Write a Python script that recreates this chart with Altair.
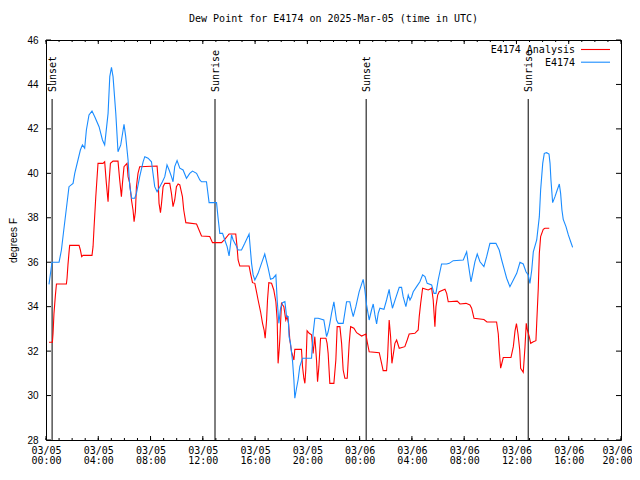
import altair as alt
import pandas as pd

# ---------------- data ----------------
# hours after 2025-03-05 00:00 UTC, degrees F
obs_hours = [0.23, 0.46, 1.0, 1.18, 1.36, 1.76, 2.07, 2.2, 2.63, 2.79, 2.96, 3.09, 3.29, 3.52, 3.73,
             4.06, 4.32, 4.49, 4.75, 4.88, 5.01, 5.13, 5.34, 5.51, 5.72, 5.9, 5.97, 6.1, 6.28, 6.41,
             6.56, 6.79, 6.92, 7.17, 7.43, 7.56, 7.81, 8.07, 8.32, 8.5, 8.71, 8.91, 9.09, 9.26, 9.42,
             9.6, 9.72, 9.85, 10.03, 10.24, 10.49, 10.75, 11.0, 11.21, 11.52, 11.77, 11.9, 12.28, 12.48,
             13.05, 13.17, 13.3, 13.51, 13.68, 13.86, 14.01, 14.2, 14.32, 14.52, 14.7, 14.96, 15.21,
             15.54, 15.73, 15.85, 15.98, 16.23, 16.49, 16.74, 17.0, 17.18, 17.38, 17.59, 17.69, 17.82,
             17.95, 18.1, 18.28, 18.41, 18.53, 18.6, 18.71, 18.87, 18.97, 19.04, 19.17, 19.29, 19.42,
             19.63, 20.32, 20.44, 20.57, 20.83, 21.26, 21.47, 21.59, 21.72, 21.85, 22.03, 22.23, 22.36,
             22.74, 23.0, 23.25, 23.38, 23.51, 23.71, 23.96, 24.27, 24.4, 24.53, 24.73, 24.91, 25.04,
             25.17, 25.3, 25.42, 25.55, 25.86, 26.06, 26.26, 26.32, 26.51, 26.74, 27.03, 27.21, 27.33,
             27.54, 27.72, 27.85, 27.98, 28.1, 28.36, 28.61, 28.82, 29.0, 29.17, 29.51, 29.69, 29.84,
             30.01, 30.27, 30.66, 30.86, 31.16, 31.93, 32.19, 32.31, 32.52, 32.65, 32.82, 33.0, 33.21,
             33.51, 33.72, 33.97, 34.43, 34.68, 34.87, 35.04, 35.25, 35.5, 35.76, 36.02, 36.27, 36.52,
             36.73, 36.9, 37.03, 37.17, 37.29, 37.55, 37.75, 37.85, 38.01, 38.13, 38.31, 38.49, 38.57,
             38.64, 38.77, 38.95, 39.12, 39.28, 39.38, 39.48, 39.58, 39.79, 39.97, 40.15, 40.3]
obs_values = [35.0, 36.0, 36.0, 36.55, 37.45, 39.4, 39.55, 40.0, 41.05, 41.28, 41.13, 41.95, 42.63, 42.8,
              42.55, 42.1, 41.5, 41.28, 42.7, 44.35, 44.77, 44.35, 42.7, 40.97, 41.28, 41.95, 42.2,
              41.65, 40.6, 39.4, 38.88, 38.88, 39.1, 39.85, 40.52, 40.75, 40.68, 40.52, 39.4, 39.17,
              39.4, 39.62, 39.85, 40.38, 40.15, 39.85, 39.62, 40.3, 40.57, 40.23, 40.15, 39.78, 40.0,
              40.1, 40.0, 39.7, 39.62, 39.62, 38.68, 38.68, 37.98, 37.3, 37.3, 37.0, 36.7, 36.28, 37.23,
              37.0, 36.78, 36.55, 36.55, 36.85, 37.27, 35.95, 35.43, 35.2, 35.5, 35.95, 36.37, 35.73,
              35.23, 35.28, 35.43, 34.3, 33.25, 33.93, 34.18, 34.23, 33.55, 33.55, 32.65, 32.35, 31.52,
              30.7, 29.88, 30.33, 30.7, 31.3, 31.68, 31.68, 32.8, 33.48, 33.48, 33.4, 32.65, 32.87,
              33.25, 33.7, 34.22, 33.4, 33.25, 33.25, 34.22, 34.22, 33.85, 33.55, 34.0, 34.67, 35.23,
              34.75, 34.08, 33.4, 33.85, 34.12, 33.63, 33.22, 33.7, 33.93, 33.88, 34.3, 34.78, 34.52,
              33.93, 34.35, 34.87, 34.87, 34.45, 34.0, 34.52, 34.3, 34.45, 34.67, 34.9, 35.12, 35.43,
              35.35, 35.05, 34.98, 34.6, 34.6, 35.2, 35.92, 35.92, 35.95, 36.07, 36.1, 36.47, 35.95,
              35.12, 35.5, 36.02, 36.37, 36.02, 35.8, 36.25, 36.85, 36.85, 36.55, 36.1, 35.73, 35.28,
              34.9, 35.2, 35.5, 36.0, 35.92, 35.57, 35.43, 35.05, 35.65, 36.47, 37.0, 38.05, 39.25,
              40.45, 40.9, 40.93, 40.87, 40.45, 39.7, 38.68, 38.95, 39.25, 39.52, 39.1, 38.35, 37.93,
              37.6, 37.23, 36.92, 36.67]

ana_hours = [0.23, 0.49, 0.54, 0.61, 0.72, 0.8, 1.56, 1.61, 1.68, 1.76, 1.81, 2.53, 2.63, 2.73, 2.83,
             3.52, 3.6, 3.68, 3.81, 3.98, 4.36, 4.49, 4.62, 4.75, 4.82, 4.93, 5.13, 5.51, 5.64, 5.77,
             5.85, 5.97, 6.2, 6.28, 6.41, 6.54, 6.66, 6.74, 6.84, 6.92, 7.04, 7.17, 8.5, 8.58, 8.65,
             8.76, 8.84, 8.96, 9.09, 9.47, 9.6, 9.72, 9.85, 9.98, 10.11, 10.24, 10.44, 10.54, 10.7,
             11.52, 11.71, 11.9, 12.53, 12.74, 13.43, 13.68, 14.01, 14.52, 14.62, 14.7, 14.83, 15.54,
             15.65, 15.8, 15.98, 16.11, 16.23, 16.42, 16.57, 16.69, 16.77, 16.88, 16.95, 17.05, 17.26,
             17.43, 17.59, 17.69, 17.76, 17.84, 17.89, 18.02, 18.2, 18.35, 18.45, 18.56, 18.66, 18.79,
             18.97, 19.04, 19.55, 19.63, 19.73, 19.81, 19.88, 19.98, 20.14, 20.32, 20.44, 20.57, 20.7,
             20.78, 20.88, 21.01, 21.42, 21.51, 21.59, 21.72, 22.03, 22.18, 22.28, 22.49, 22.62, 22.74,
             22.87, 23.05, 23.2, 23.31, 23.56, 23.77, 24.15, 24.48, 24.58, 24.73, 25.5, 25.68, 25.8,
             26.06, 26.14, 26.26, 26.37, 26.47, 26.57, 26.7, 26.83, 27.03, 27.46, 27.64, 27.79, 28.23,
             28.48, 28.56, 28.67, 28.82, 29.25, 29.51, 29.63, 29.76, 29.84, 29.97, 30.09, 30.53, 30.66,
             30.78, 31.47, 31.68, 32.14, 32.44, 32.57, 32.75, 33.51, 33.74, 34.48, 34.61, 34.68, 34.79,
             34.87, 34.99, 35.58, 35.76, 35.89, 36.0, 36.12, 36.25, 36.32, 36.52, 36.65, 36.75, 36.83,
             36.98, 37.09, 37.29, 37.49, 37.55, 37.67, 37.75, 37.85, 38.05, 38.18, 38.51]
ana_values = [32.4, 32.4, 32.8, 33.7, 34.52, 35.02, 35.02, 35.28, 35.88, 36.43, 36.76, 36.76, 36.55,
              36.25, 36.31, 36.31, 36.7, 37.6, 38.95, 40.45, 40.45, 40.52, 39.55, 38.72, 39.55, 40.45,
              40.55, 40.55, 39.7, 38.95, 39.55, 40.3, 40.45, 39.85, 39.55, 38.8, 38.35, 37.82, 38.27,
              39.4, 40.0, 40.3, 40.33, 39.7, 38.65, 38.23, 38.65, 39.4, 39.55, 39.55, 39.1, 38.5, 38.8,
              39.4, 39.52, 39.48, 38.95, 38.35, 37.78, 37.72, 37.45, 37.18, 37.16, 36.88, 36.88, 37.03,
              37.27, 37.27, 36.7, 36.1, 35.83, 35.83, 35.5, 35.08, 35.05, 34.67, 34.3, 33.77, 33.25,
              32.95, 32.58, 33.4, 34.3, 35.08, 35.05, 34.75, 34.22, 33.4, 31.45, 32.05, 32.5, 34.15,
              34.0, 33.4, 33.55, 33.25, 32.5, 31.97, 31.6, 32.08, 32.08, 31.3, 30.78, 30.55, 31.15,
              32.92, 32.8, 32.73, 31.9, 32.65, 31.6, 30.62, 31.3, 32.58, 32.58, 32.35, 31.9, 30.55,
              30.55, 31.6, 33.1, 33.1, 32.35, 31.15, 30.78, 30.78, 32.35, 33.1, 33.03, 32.83, 32.68,
              32.77, 32.42, 31.97, 31.93, 31.45, 31.12, 31.12, 31.75, 33.4, 32.65, 31.45, 31.83, 32.35,
              32.5, 32.13, 32.2, 32.5, 32.77, 32.8, 32.95, 33.55, 34.15, 34.83, 34.75, 34.83, 34.3,
              33.1, 34.0, 34.52, 34.67, 34.78, 34.6, 34.22, 34.25, 34.12, 34.15, 34.08, 33.93, 33.48,
              33.42, 33.31, 33.31, 32.77, 32.05, 31.23, 31.42, 31.71, 31.71, 32.2, 32.91, 33.24, 32.77,
              32.05, 31.23, 31.05, 32.16, 33.25, 32.95, 32.65, 32.35, 32.42, 32.47, 33.25, 34.83, 36.4,
              37.15, 37.48, 37.53, 37.53]

event_labels = ["Sunset", "Sunrise", "Sunset", "Sunrise"]
event_times = ["2025-03-05T00:28:00Z", "2025-03-05T12:56:00Z",
               "2025-03-06T00:30:00Z", "2025-03-06T12:54:00Z"]

series_names = ["E4174 Analysis", "E4174"]
series_colors = ["#ff0000", "#1a8cff"]

y_ticks = [28, 30, 32, 34, 36, 38, 40, 42, 44, 46]
x_start = "2025-03-05T00:00:00Z"
x_end_hours = 44
major_step_hours = 4

title_text = "Dew Point for E4174 on 2025-Mar-05 (time in UTC)"
y_title = "degrees F"

# ---------------- build tables ----------------
base = pd.Timestamp(x_start)


def iso(h):
    return (base + pd.Timedelta(hours=h)).strftime("%Y-%m-%dT%H:%M:%SZ")


def ms(h):
    return int((base + pd.Timedelta(hours=h)).value // 10**6)


obs_df = pd.DataFrame({"t": [iso(h) for h in obs_hours], "v": obs_values})
ana_df = pd.DataFrame({"t": [iso(h) for h in ana_hours], "v": ana_values})
ev_df = pd.DataFrame({"t": event_times, "label": event_labels})
minor_df = pd.DataFrame({"t": [iso(h) for h in range(0, x_end_hours + 1)]})
major_df = pd.DataFrame({"t": [iso(h) for h in range(0, x_end_hours + 1, major_step_hours)]})
ytick_df = pd.DataFrame({"v": y_ticks})

W, H = 575, 400
MONO = "DejaVu Sans Mono"
SANS = "Liberation Sans"

x_scale = alt.Scale(type="utc", domain=[ms(0), ms(x_end_hours)])
y_scale = alt.Scale(domain=[y_ticks[0], y_ticks[-1]], nice=False, zero=False)

x_axis = alt.Axis(
    values=[ms(h) for h in range(0, x_end_hours + 1, major_step_hours)],
    labelExpr="[utcFormat(datum.value, '%m/%d'), utcFormat(datum.value, '%H:%M')]",
    title=None, ticks=False, tickSize=0, domain=False, grid=False,
    labelFont=MONO, labelFontSize=10, labelColor="black", labelPadding=5,
    labelLineHeight=10, labelFlush=False, labelOverlap=False,
    labelOffset={"condition": {"test": f"datum.value >= {ms(x_end_hours)}", "value": -4}, "value": 0},
)
y_axis = alt.Axis(
    values=y_ticks, title=y_title, ticks=False, tickSize=0, domain=False, grid=False,
    labelFont=SANS, labelFontSize=10, labelColor="black", labelPadding=8,
    titleFont=SANS, titleFontSize=10, titleFontWeight="normal", titleColor="black",
    titlePadding=8,
)

X = alt.X("t:T", scale=x_scale, axis=x_axis)
Y = alt.Y("v:Q", scale=y_scale, axis=y_axis)

ana_line = alt.Chart(ana_df).mark_line(color=series_colors[0], strokeWidth=1.1).encode(x=X, y=Y)
obs_line = alt.Chart(obs_df).mark_line(color=series_colors[1], strokeWidth=1.1).encode(x=X, y=Y)

ev_rule = alt.Chart(ev_df).mark_rule(color="black", strokeWidth=1).encode(
    x=X, y=alt.value(59), y2=alt.value(H))
ev_text = alt.Chart(ev_df).mark_text(
    angle=270, align="left", baseline="middle", font=MONO, fontSize=10, color="black", dx=0, dy=1
).encode(x=X, y=alt.value(52), text="label:N")

# inward ticks on all four sides (gnuplot style)
minor_bot = alt.Chart(minor_df).mark_rule(color="black").encode(x=X, y=alt.value(H - 2), y2=alt.value(H))
minor_top = alt.Chart(minor_df).mark_rule(color="black").encode(x=X, y=alt.value(0), y2=alt.value(2))
major_bot = alt.Chart(major_df).mark_rule(color="black").encode(x=X, y=alt.value(H - 4), y2=alt.value(H))
major_top = alt.Chart(major_df).mark_rule(color="black").encode(x=X, y=alt.value(0), y2=alt.value(4))
ytick_l = alt.Chart(ytick_df).mark_rule(color="black").encode(y=Y, x=alt.value(0), x2=alt.value(5))
ytick_r = alt.Chart(ytick_df).mark_rule(color="black").encode(y=Y, x=alt.value(W - 5), x2=alt.value(W))

# legend (text then line, top-right inside the frame)
legend_layers = []
for i, (name, col) in enumerate(zip(series_names, series_colors)):
    ldf = pd.DataFrame({"label": [name]})
    ly = 10 + i * 12.7
    legend_layers.append(
        alt.Chart(ldf).mark_text(align="right", baseline="middle", font=MONO, fontSize=10,
                                 color="black").encode(x=alt.value(529), y=alt.value(ly), text="label:N"))
    legend_layers.append(
        alt.Chart(ldf).mark_rule(color=col, strokeWidth=1.1).encode(
            x=alt.value(535), x2=alt.value(564), y=alt.value(ly - 0.5)))

chart = alt.layer(
    minor_bot, minor_top, major_bot, major_top, ytick_l, ytick_r,
    ev_rule, ev_text, ana_line, obs_line, *legend_layers
).properties(
    width=W, height=H,
    title=alt.TitleParams(title_text, font=MONO, fontSize=10, fontWeight="normal",
                          color="black", offset=11, anchor="middle"),
    padding={"left": 38, "top": 32, "right": 11, "bottom": 32},
    autosize=alt.AutoSizeParams(type="none"),
    background="white",
).configure_view(stroke="black", strokeWidth=1)

chart.save("out.html", embed_options={"renderer": "svg", "actions": False})
